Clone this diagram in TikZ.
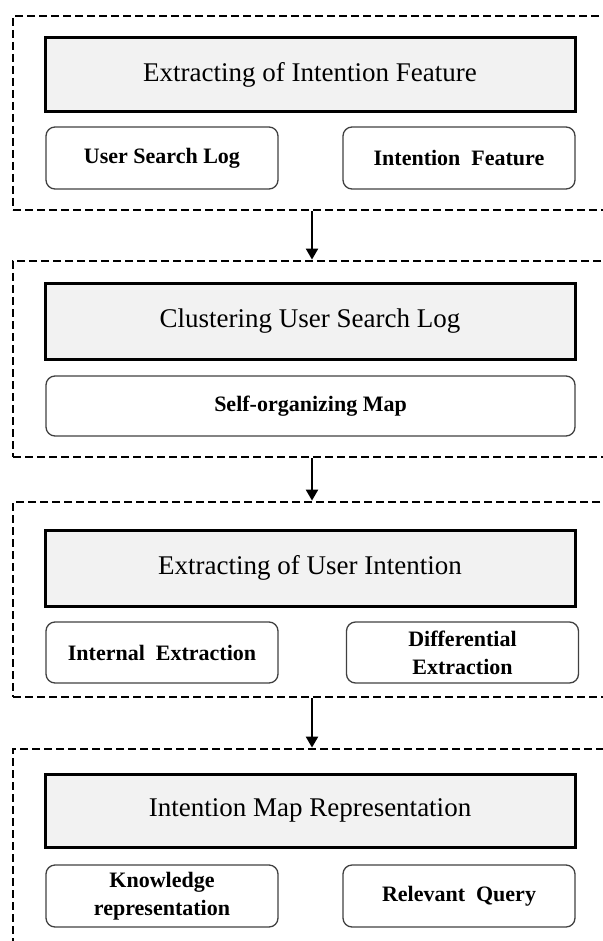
\documentclass[tikz,border=0pt]{standalone}
\usepackage{fontspec}
\setmainfont{Liberation Serif}
\usetikzlibrary{arrows.meta, positioning}
\definecolor{titlegray}{HTML}{F2F2F2}
\tikzset{stagebox/.style = {draw, line width=2.8pt, dash pattern=on 8pt off 4pt, minimum width=598pt, inner sep=0pt},
  stagetitle/.style = {draw, line width=3pt, fill=titlegray, minimum width=530pt, font=\fontsize{27}{32}\selectfont},
  partbox/.style = {draw=black!75, line width=1.3pt, rounded corners=9pt, minimum width=232pt, minimum height=62pt, align=center, font=\fontsize{22}{28}\selectfont\bfseries},
  flowarrow/.style = {-{Triangle[width=12pt,length=11pt]}, line width=2.2pt}}

\begin{document}
\begin{tikzpicture}[x=1pt, y=-1pt]
        \useasboundingbox (0,0) rectangle (602,941);
        % stages
        \node[stagebox, minimum height=194pt] (grp1) at (312,113) {};
        \node[stagebox, minimum height=196pt] (grp2) at (312,359) {};
        \node[stagebox, minimum height=195pt] (grp3) at (312,599.5) {};
        \node[stagebox, minimum height=211pt] (grp4) at (312,854.5) {};
        % titles
        \node[stagetitle, minimum height=74pt] (ttl1) at (310,75) {Extracting of Intention Feature};
        \node[stagetitle, minimum height=76pt] (ttl2) at (310,321) {Clustering User Search Log};
        \node[stagetitle, minimum height=76pt] (ttl3) at (310,568) {Extracting of User Intention};
        \node[stagetitle, minimum height=73pt] (ttl4) at (310,810.5) {Intention Map Representation};
        % parts
        \node[partbox] (log) at (162,158) {User Search Log};
        \node[partbox] (feat) at (459,158) {Intention\ \ Feature};
        \node[partbox, minimum width=529pt, minimum height=60pt] (som) at (310.5,406) {Self-organizing\ Map};
        \node[partbox, minimum height=61pt] (intx) at (162,652.5) {Internal\ \ Extraction};
        \node[partbox, minimum height=61pt] (difx) at (462.5,652.5) {Differential\\Extraction};
        \node[partbox] (know) at (162,896) {Knowledge\\representation};
        \node[partbox] (query) at (459,896) {Relevant\ \ Query};
        % flow
        \draw[flowarrow] (grp1.south) -- (grp2.north);
        \draw[flowarrow] (grp2.south) -- (grp3.north);
        \draw[flowarrow] (grp3.south) -- (grp4.north);
    \end{tikzpicture}
\end{document}
